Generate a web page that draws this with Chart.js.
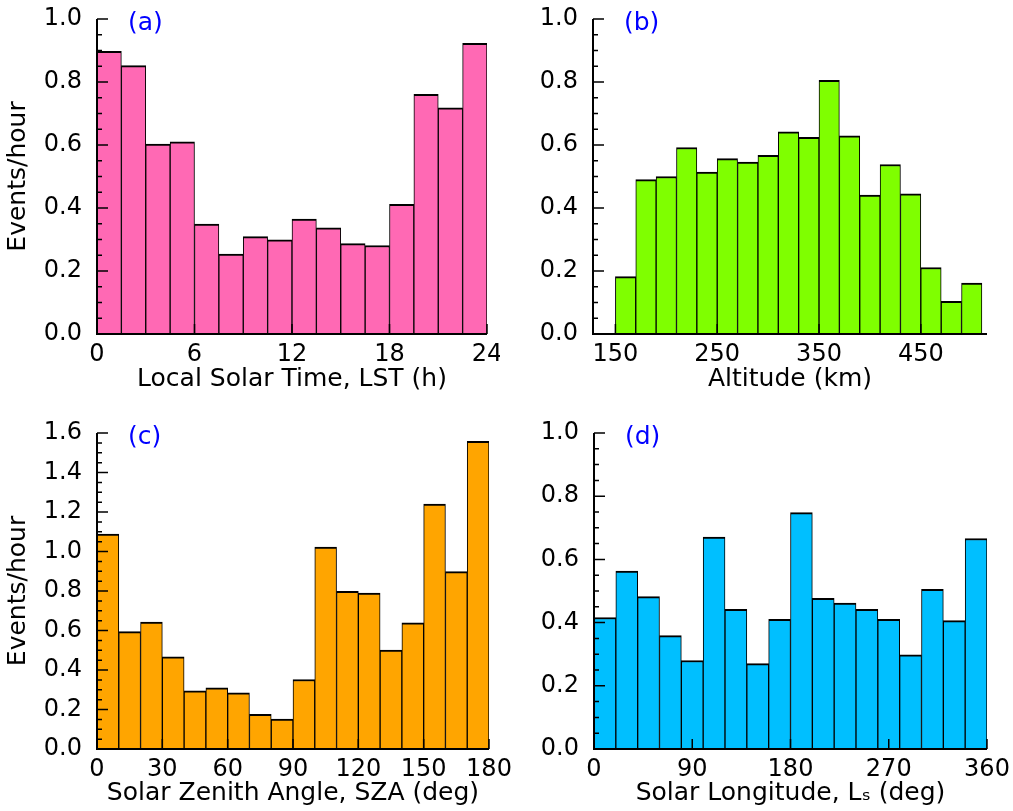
<!DOCTYPE html>
<html>
<head>
<meta charset="utf-8">
<script src="https://cdn.jsdelivr.net/npm/chart.js@4.4.0/dist/chart.umd.min.js"></script>
<style>
  body { margin: 0; background: #fff; }
  canvas { position: absolute; }
</style>
</head>
<body>
<canvas id="chartA" width="500" height="400" style="left:0;top:0"></canvas>
<canvas id="chartB" width="513" height="400" style="left:500px;top:0"></canvas>
<canvas id="chartC" width="520" height="401" style="left:0;top:410px"></canvas>
<canvas id="chartD" width="513" height="401" style="left:500px;top:410px"></canvas>
<script>
// bin centres and event rates (events/hour)
var lstBins = [0.75, 2.25, 3.75, 5.25, 6.75, 8.25, 9.75, 11.25, 12.75, 14.25, 15.75, 17.25, 18.75, 20.25, 21.75, 23.25];
var lstRates = [0.897, 0.852, 0.603, 0.610, 0.349, 0.254, 0.309, 0.299, 0.365, 0.337, 0.287, 0.281, 0.412, 0.761, 0.718, 0.923];

var altBins = [160, 180, 200, 220, 240, 260, 280, 300, 320, 340, 360, 380, 400, 420, 440, 460, 480, 500];
var altRates = [0.182, 0.490, 0.500, 0.592, 0.514, 0.557, 0.546, 0.567, 0.642, 0.624, 0.805, 0.629, 0.441, 0.538, 0.445, 0.211, 0.104, 0.162];

var szaBins = [5, 15, 25, 35, 45, 55, 65, 75, 85, 95, 105, 115, 125, 135, 145, 155, 165, 175];
var szaRates = [1.088, 0.594, 0.643, 0.467, 0.294, 0.310, 0.284, 0.176, 0.152, 0.352, 1.022, 0.798, 0.790, 0.501, 0.639, 1.240, 0.898, 1.558];

var lsBins = [10, 30, 50, 70, 90, 110, 130, 150, 170, 190, 210, 230, 250, 270, 290, 310, 330, 350];
var lsRates = [0.416, 0.563, 0.482, 0.359, 0.280, 0.671, 0.442, 0.270, 0.410, 0.748, 0.477, 0.462, 0.442, 0.410, 0.298, 0.505, 0.406, 0.666];

var lstTicks = [0, 6, 12, 18, 24];
var altTicks = [150, 250, 350, 450];
var szaTicks = [0, 30, 60, 90, 120, 150, 180];
var lsTicks = [0, 90, 180, 270, 360];
var rateTicks = [0, 0.2, 0.4, 0.6, 0.8, 1.0];
var szaRateTicks = [0, 0.2, 0.4, 0.6, 0.8, 1.0, 1.2, 1.4, 1.6];

Chart.defaults.font.family = '"DejaVu Sans", sans-serif';
Chart.defaults.font.size = 24;
Chart.defaults.color = '#000';

// spines + inward ticks drawn over the bars, plus the panel letter
var insideAxes = {
  id: 'insideAxes',
  afterDatasetsDraw: function(chart, args, opts) {
    var ctx = chart.ctx, a = chart.chartArea;
    var xs = chart.scales.x, ys = chart.scales.y;
    ctx.save();
    ctx.strokeStyle = '#000';
    ctx.lineWidth = 2;
    ctx.beginPath();
    ctx.moveTo(a.left, a.top);
    ctx.lineTo(a.left, a.bottom);
    ctx.lineTo(a.right, a.bottom);
    ctx.stroke();

    ctx.lineWidth = 1.5;
    ctx.beginPath();
    xs.ticks.forEach(function(t) {
      var px = xs.getPixelForValue(t.value);
      ctx.moveTo(px, a.bottom);
      ctx.lineTo(px, a.bottom - 10);
    });
    ys.ticks.forEach(function(t) {
      var py = ys.getPixelForValue(t.value);
      ctx.moveTo(a.left, py);
      ctx.lineTo(a.left + 11, py);
    });
    var n = Math.round((ys.max - ys.min) / 0.05);
    for (var i = 0; i <= n; i++) {
      var py = ys.getPixelForValue(ys.min + i * 0.05);
      ctx.moveTo(a.left, py);
      ctx.lineTo(a.left + 5, py);
    }
    ctx.stroke();

    ctx.fillStyle = '#0000ff';
    ctx.font = '25px "DejaVu Sans"';
    ctx.textBaseline = 'middle';
    ctx.textAlign = 'left';
    ctx.fillText(opts.text, a.left + 31, a.top + 4);
    ctx.restore();
  }
};

function makePanel(id, p) {
  var pts = p.bins.map(function(b, i) { return { x: b, y: p.rates[i] }; });
  return new Chart(document.getElementById(id), {
    type: 'bar',
    data: {
      datasets: [{
        data: pts,
        backgroundColor: p.color,
        borderColor: '#000',
        borderWidth: { top: 2, left: 1, right: 1, bottom: 0 },
        barPercentage: 1,
        categoryPercentage: 1
      }]
    },
    plugins: [insideAxes],
    options: {
      responsive: false,
      animation: false,
      layout: { padding: { top: p.top, right: p.right, left: 0, bottom: 0 } },
      plugins: {
        legend: { display: false },
        tooltip: { enabled: false },
        insideAxes: { text: p.letter }
      },
      scales: {
        x: {
          type: 'linear',
          offset: false,
          min: p.xmin,
          max: p.xmax,
          grid: { display: false, drawTicks: false, offset: false },
          border: { display: false },
          afterBuildTicks: function(s) { s.ticks = p.xticks.map(function(v) { return { value: v }; }); },
          afterFit: function(s) { s.height = p.xh; s.paddingLeft = 0; s.paddingRight = 0; },
          ticks: { padding: 6, autoSkip: false, maxRotation: 0, callback: function(v) { return String(v); } },
          title: { display: true, text: p.xtitle, font: { size: 25 }, padding: { top: 0, bottom: p.tpad } }
        },
        y: {
          min: 0,
          max: p.ymax,
          grid: { display: false, drawTicks: false },
          border: { display: false },
          afterBuildTicks: function(s) { s.ticks = p.yticks.map(function(v) { return { value: v }; }); },
          afterFit: function(s) { s.width = p.yw; s.paddingTop = 0; s.paddingBottom = 0; },
          ticks: { padding: 15, autoSkip: false, callback: function(v) { return v.toFixed(1); } },
          title: { display: p.ytitle !== '', text: p.ytitle, font: { size: 25 }, padding: { top: 3, bottom: 0 } }
        }
      }
    }
  });
}

makePanel('chartA', {
  bins: lstBins, rates: lstRates, color: '#ff69b4', letter: '(a)',
  xmin: 0, xmax: 24, xticks: lstTicks, ymax: 1.0, yticks: rateTicks,
  xtitle: 'Local Solar Time, LST (h)', ytitle: 'Events/hour',
  top: 19, right: 13, xh: 66, yw: 97, tpad: 5.5
});

makePanel('chartB', {
  bins: altBins, rates: altRates, color: '#7fff00', letter: '(b)',
  xmin: 128, xmax: 515, xticks: altTicks, ymax: 1.0, yticks: rateTicks,
  xtitle: 'Altitude (km)', ytitle: '',
  top: 19, right: 26, xh: 66, yw: 93, tpad: 5.5
});

makePanel('chartC', {
  bins: szaBins, rates: szaRates, color: '#ffa500', letter: '(c)',
  xmin: 0, xmax: 180, xticks: szaTicks, ymax: 1.6, yticks: szaRateTicks,
  xtitle: 'Solar Zenith Angle, SZA (deg)', ytitle: 'Events/hour',
  top: 23, right: 31, xh: 62, yw: 97, tpad: 2.3
});

makePanel('chartD', {
  bins: lsBins, rates: lsRates, color: '#00bfff', letter: '(d)',
  xmin: 0, xmax: 360, xticks: lsTicks, ymax: 1.0, yticks: rateTicks,
  xtitle: 'Solar Longitude, L\u209B (deg)', ytitle: '',
  top: 23, right: 26, xh: 62, yw: 94, tpad: 2.3
});
</script>
</body>
</html>
